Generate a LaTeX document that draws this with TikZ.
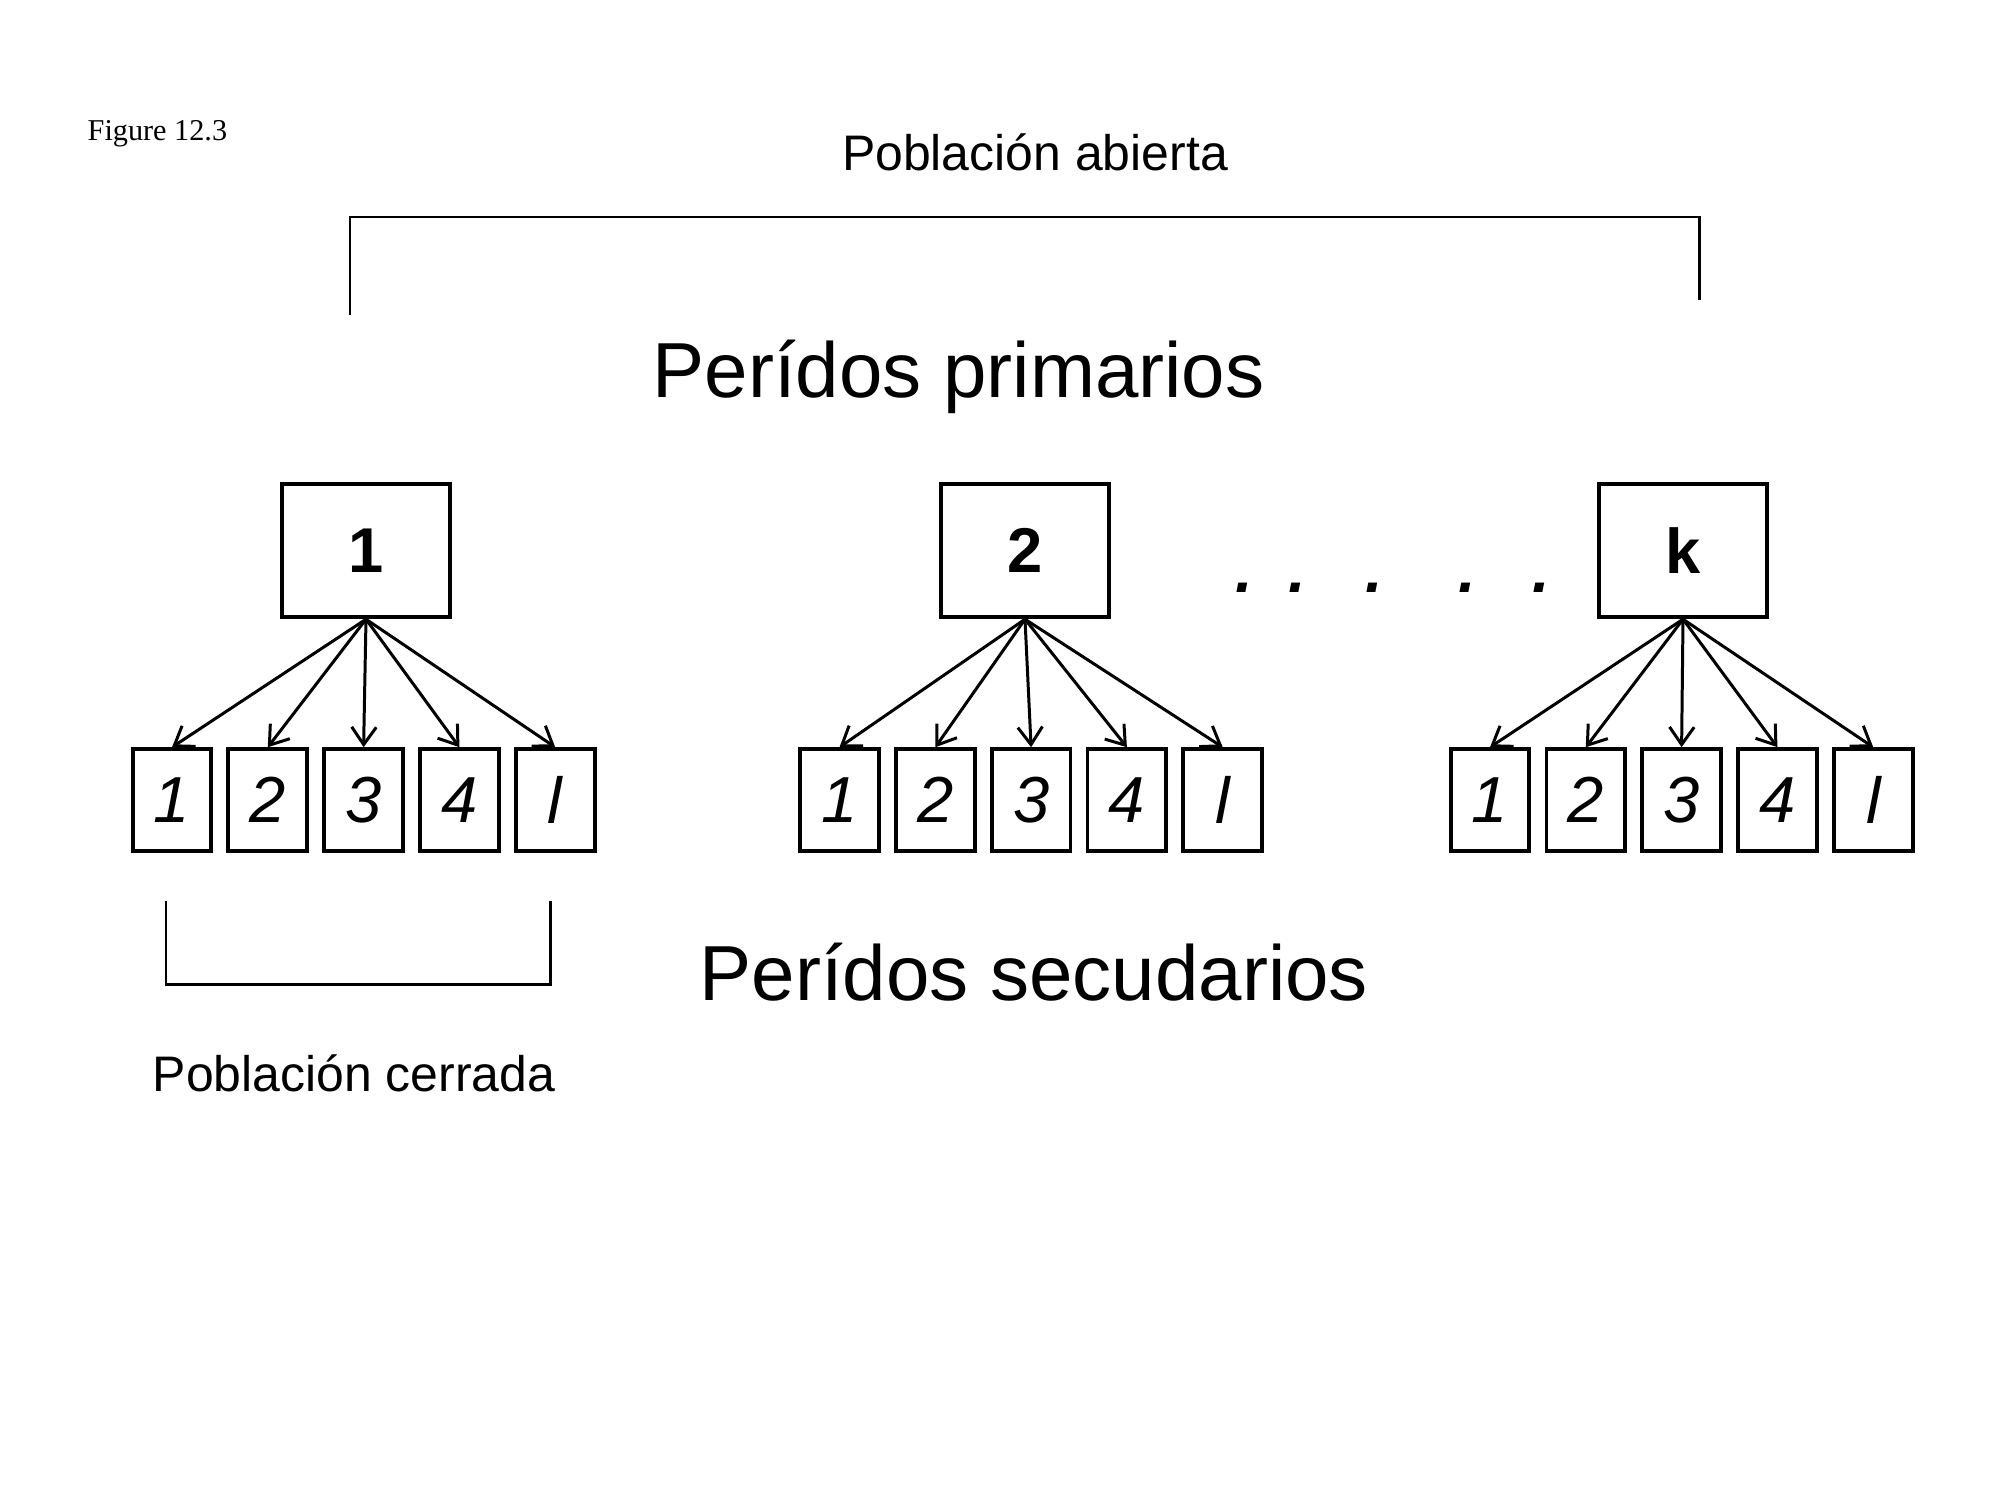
\documentclass[tikz,border=0pt]{standalone}
\usepackage{fontspec}
\setmainfont{Liberation Sans}
\newfontfamily\timesfont{Liberation Serif}
\usetikzlibrary{arrows.meta}
\tikzset{
  pbox/.style={draw, line width=1.1pt, minimum width=168*0.2835pt, minimum height=134*0.2835pt, inner sep=0pt, font=\fontsize{18}{18}\selectfont\bfseries},
  sbox/.style={draw, line width=1.1pt, minimum width=79*0.2835pt, minimum height=102*0.2835pt, inner sep=0pt, font=\fontsize{18.5}{18.5}\selectfont\itshape},
  arr/.style={line width=0.85pt, -{Straight Barb[length=5pt,width=7pt]}},
  brk/.style={line width=0.85pt},
  dotlbl/.style={font=\fontsize{18}{18}\selectfont\bfseries\itshape, inner sep=0pt}
}
\begin{document}
\begin{tikzpicture}[x=0.01cm,y=-0.01cm]
\useasboundingbox (0,0) rectangle (2000,1500);
\node[anchor=base west, inner sep=0pt, font=\timesfont\fontsize{8.6}{8.6}\selectfont] (fig) at (87,140) {Figure 12.3};
\node[anchor=base, inner sep=0pt, font=\fontsize{14.2}{14.2}\selectfont] (abierta) at (1035,170) {Población abierta};
\coordinate (tl) at (350,315);
\coordinate (tlc) at (350,217);
\coordinate (trc) at (1699,217);
\coordinate (tr) at (1699,300);
\draw[brk] (tl) -- (tlc) -- (trc) -- (tr);
\node[anchor=base west, inner sep=0pt, font=\fontsize{22.2}{22.2}\selectfont] (prim) at (652,397) {Perídos primarios};
% primary boxes
\node[pbox] (p1) at (366,550.5) {1};
\node[pbox] (p2) at (1025,550.5) {2};
\node[pbox] (pk) at (1683,550.5) {k};
% dots
\foreach \i/\x in {1/1244,2/1297,3/1374,4/1467,5/1541}
  \node[dotlbl, anchor=base] (dot\i) at (\x,592) {.};
% secondary boxes
\foreach \g/\p/\xs in {a/p1/172, b/p2/839.5, c/pk/1490} {
  \foreach \j/\t in {1/1,2/2,3/3,4/4,5/l} {
    \node[sbox] (\g\j) at ({\xs+(\j-1)*95.8},800) {\t};
    \draw[arr] (\p.south) -- (\g\j.north);
  }
}
% closed bracket
\coordinate (bl) at (166,901);
\coordinate (blc) at (166,984);
\coordinate (brc) at (550,984);
\coordinate (br) at (550,901);
\draw[brk] (bl) -- (blc) -- (brc) -- (br);
\node[anchor=base west, inner sep=0pt, font=\fontsize{22.2}{22.2}\selectfont] (sec) at (699,1000) {Perídos secudarios};
\node[anchor=base west, inner sep=0pt, font=\fontsize{14.2}{14.2}\selectfont] (cerrada) at (152,1091) {Población cerrada};
\end{tikzpicture}
\end{document}
